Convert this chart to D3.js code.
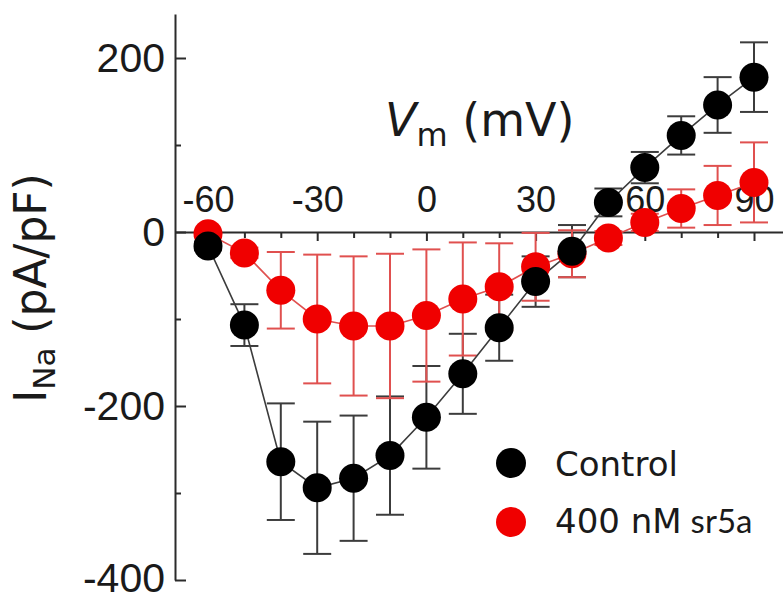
<!DOCTYPE html>
<meta charset="utf-8">
<html>
<head>
    <style>
        body {
            margin: 0;
            background: #fff;
        }

        .axis path,
        .axis line {
            fill: none;
            stroke: #2b2b2b;
            stroke-width: 2px;
        }

        .axis text {
            font-family: 'Liberation Sans', Arial, sans-serif;
            fill: #1a1a1a;
        }

        .title {
            font-family: 'DejaVu Sans', Verdana, sans-serif;
            fill: #1a1a1a;
        }
    </style>
</head>

<body>
    <svg id="chart"></svg>

    <script src="https://cdn.jsdelivr.net/npm/d3@7"></script>
    <script>

        // membrane voltage steps (mV)
        var voltages = [-60, -50, -40, -30, -20, -10, 0, 10, 20, 30, 40, 50, 60, 70, 80, 90];

        // current density (pA/pF), mean and error
        var controlMean = [-16, -107, -264, -294, -283, -257, -213, -163, -110, -57, -22, 34, 74, 111, 146, 178];
        var controlErr = [5, 24, 67, 76, 72, 68, 59, 46, 38, 29, 30, 16, 18, 22, 32, 40];

        var sr5aMean = [-2, -24, -67, -100, -108, -108, -96, -77, -63, -40, -25, -7, 11, 27, 42, 57];
        var sr5aErr = [3, 6, 44, 74, 80, 83, 76, 65, 50, 39, 27, 8, 10, 22, 34, 46];

        var xMajorTicks = [-60, -30, 0, 30, 60, 90];
        var xMinorTicks = [-50, -40, -20, -10, 10, 20, 40, 50, 70, 80];
        var yMajorTicks = [-400, -200, 0, 200];
        var yMinorTicks = [-300, -100, 100];

        var seriesNames = ["Control", "400 nM"];

        var width = 783, height = 594;

        // plain hyphen for negatives, like the original figure
        var fmt = function (d) { return String(d); };

        var svg = d3.select("#chart")
            .attr("width", width)
            .attr("height", height);

        // scales
        var x = d3.scaleLinear()
            .domain([-60, 90])
            .range([208, 754]);
        var xAxisScale = x.copy()
            .domain([x.invert(175), x.invert(783)])
            .range([175, 783]);

        var y = d3.scaleLinear()
            .domain([-400, 200])
            .range([580, 58]);
        var yAxisScale = y.copy()
            .domain([-400, y.invert(14)])
            .range([580, 14]);

        // y axis, ticks pointing into the plot
        var yAxisG = svg.append("g")
            .attr("class", "axis")
            .attr("transform", "translate(175,0)")
            .call(d3.axisLeft(yAxisScale)
                .tickValues(yMajorTicks)
                .tickFormat(fmt)
                .tickSizeInner(-11)
                .tickSizeOuter(0)
                .tickPadding(10));
        yAxisG.selectAll("text")
            .style("font-size", "41px")
            .attr("y", function (d) { return d == -400 ? -2 : 0; });

        svg.append("g")
            .attr("class", "axis")
            .attr("transform", "translate(175,0)")
            .call(d3.axisLeft(yAxisScale)
                .tickValues(yMinorTicks)
                .tickSizeInner(-6)
                .tickSizeOuter(0)
                .tickFormat(""))
            .select(".domain").remove();

        // x axis crosses at 0, labels above, ticks below
        svg.append("g")
            .attr("class", "axis")
            .attr("transform", "translate(0," + y(0) + ")")
            .call(d3.axisTop(xAxisScale)
                .tickValues(xMajorTicks)
                .tickFormat(fmt)
                .tickSizeInner(-9)
                .tickSizeOuter(0)
                .tickPadding(20))
            .selectAll("text")
            .style("font-size", "36px");

        svg.append("g")
            .attr("class", "axis")
            .attr("transform", "translate(0," + y(0) + ")")
            .call(d3.axisTop(xAxisScale)
                .tickValues(xMinorTicks)
                .tickSizeInner(-6)
                .tickSizeOuter(0)
                .tickFormat(""))
            .select(".domain").remove();

        // axis titles
        var xt = svg.append("text")
            .attr("class", "title")
            .attr("x", 385)
            .attr("y", 136)
            .style("font-size", "46px");
        xt.append("tspan").style("font-style", "italic").text("V");
        xt.append("tspan").attr("dy", 10).style("font-size", "32px").text("m");
        xt.append("tspan").attr("dy", -10).text(" (mV)");

        var yt = svg.append("text")
            .attr("class", "title")
            .attr("transform", "translate(46,288) rotate(-90)")
            .attr("text-anchor", "middle")
            .style("font-size", "44px");
        yt.append("tspan").text("I");
        yt.append("tspan").attr("dy", 9).style("font-size", "31px").text("Na");
        yt.append("tspan").attr("dy", -9).text(" (pA/pF)");

        var series = [
            { mean: controlMean, err: controlErr, fill: "#000", stroke: "#3c3c3c" },
            { mean: sr5aMean, err: sr5aErr, fill: "#f00000", stroke: "#e0504f" }
        ];

        var capW = 14;

        // error bars
        series.forEach(function (s) {
            var g = svg.append("g")
                .attr("stroke", s.stroke)
                .attr("stroke-width", 2)
                .attr("fill", "none");
            voltages.forEach(function (v, i) {
                var top = y(s.mean[i] + s.err[i]), bot = y(s.mean[i] - s.err[i]);
                g.append("line")
                    .attr("x1", x(v)).attr("x2", x(v))
                    .attr("y1", top).attr("y2", bot);
                g.append("line")
                    .attr("x1", x(v) - capW).attr("x2", x(v) + capW)
                    .attr("y1", top).attr("y2", top);
                g.append("line")
                    .attr("x1", x(v) - capW).attr("x2", x(v) + capW)
                    .attr("y1", bot).attr("y2", bot);
            });
        });

        var line = d3.line()
            .x(function (d) { return x(d[0]); })
            .y(function (d) { return y(d[1]); });

        series.forEach(function (s) {
            svg.append("path")
                .datum(d3.zip(voltages, s.mean))
                .attr("fill", "none")
                .attr("stroke", s.stroke)
                .attr("stroke-width", 1.6)
                .attr("d", line);
        });

        // red markers first, black ones on top
        series.slice().reverse().forEach(function (s) {
            svg.append("g")
                .selectAll("circle")
                .data(d3.zip(voltages, s.mean))
                .enter().append("circle")
                .attr("cx", function (d) { return x(d[0]); })
                .attr("cy", function (d) { return y(d[1]); })
                .attr("r", 14.5)
                .attr("fill", s.fill);
        });

        // legend
        var legend = svg.append("g");
        seriesNames.forEach(function (name, i) {
            legend.append("circle")
                .attr("cx", 511)
                .attr("cy", 463 + i * 59)
                .attr("r", 15)
                .attr("fill", series[i].fill);
            var t = legend.append("text")
                .attr("class", "title")
                .attr("x", 555)
                .attr("y", 476 + i * 57)
                .style("font-size", "34px")
                .text(name);
            if (i == 1) {
                t.append("tspan")
                    .attr("dx", 9)
                    .style("font-family", "Lato, sans-serif")
                    .style("font-size", "33px")
                    .text("sr5a");
            }
        });

    </script>
</body>
</html>
